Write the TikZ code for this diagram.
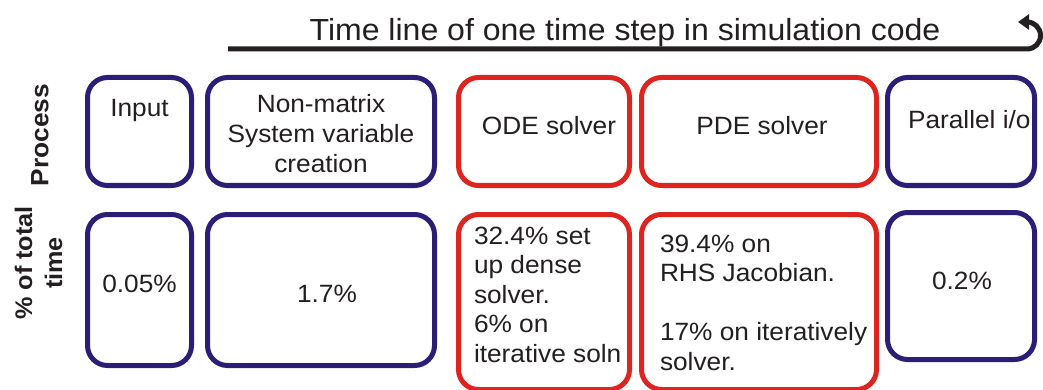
\documentclass[tikz,border=0pt]{standalone}
\usepackage{fontspec}
\setmainfont{Liberation Sans}[FakeStretch=1.05]
\usetikzlibrary{arrows.meta}

\definecolor{navybox}{RGB}{42,30,118}
\definecolor{redbox}{RGB}{222,36,30}
\definecolor{inktext}{RGB}{35,31,32}

\begin{document}
\begin{tikzpicture}[x=1pt,y=-1pt,
  every node/.style={inner sep=0pt,outer sep=0pt,text=inktext},
  stagebox/.style={draw,rectangle,line width=5pt,rounded corners=20pt},
  cpubox/.style={stagebox,draw=navybox},
  hotbox/.style={stagebox,draw=redbox},
  bodytext/.style={font=\fontsize{25}{29.5}\selectfont},
  rowlabel/.style={font=\fontsize{25}{30}\selectfont\bfseries,rotate=90,align=center},
  timeline/.style={line width=5pt,draw=inktext}
]
\useasboundingbox (0,0) rectangle (1043,390);

% title and time line with its return arrow
\node[anchor=base,font=\fontsize{30.5}{36}\selectfont] (title) at (625,41)
  {Time line of one time step in simulation code};
\coordinate (tlStart) at (228,49);
\coordinate (tlBend) at (1027,49);
\coordinate (tlTip) at (1018,22);
\draw[timeline,-{Triangle[length=11pt,width=15pt]}]
  (tlStart) -- (tlBend) arc[start angle=90,end angle=-90,radius=13.5] -- (tlTip);

% row labels
\node[rowlabel] (procLabel) at (40,135) {Process};
\node[rowlabel,font=\fontsize{24}{30}\selectfont\bfseries] (pctLabel) at (38.5,263) {\% of total\\time};

% process row
\node[cpubox,minimum width=104pt,minimum height=108pt] (inTop)  at (139.5,131.5) {};
\node[cpubox,minimum width=227pt,minimum height=108pt] (nmTop)  at (321,131.5) {};
\node[hotbox,minimum width=171pt,minimum height=108pt] (odeTop) at (544,131.5) {};
\node[hotbox,minimum width=235pt,minimum height=108pt] (pdeTop) at (759,131.5) {};
\node[cpubox,minimum width=147pt,minimum height=108pt] (pioTop) at (961,131.5) {};

% share-of-time row
\node[cpubox,minimum width=104pt,minimum height=151pt] (inPct)  at (139.5,290) {};
\node[cpubox,minimum width=227pt,minimum height=151pt] (nmPct)  at (321,290) {};
\node[hotbox,minimum width=171pt,minimum height=175pt] (odePct) at (544,302) {};
\node[hotbox,minimum width=235pt,minimum height=175pt] (pdePct) at (759,302) {};
\node[cpubox,minimum width=147pt,minimum height=147pt] (pioPct) at (961,286) {};

% process names (multi-line nodes are placed by the baseline of their last line)
\node[bodytext,anchor=base] (inName) at (139.5,117) {Input};
\node[bodytext,anchor=base,align=center] (nmName) at (321,172)
  {Non-matrix\\System variable\\creation};
\node[bodytext,anchor=base] (odeName) at (549,135) {ODE solver};
\node[bodytext,anchor=base] (pdeName) at (762,135) {PDE solver};
\node[bodytext,anchor=base west] (pioName) at (908,129) {Parallel i/o};

% time shares
\node[bodytext,anchor=base] (inShare) at (139.5,292) {0.05\%};
\node[bodytext,anchor=base] (nmShare) at (327,302) {1.7\%};
\node[bodytext,anchor=base west,align=left] (odeShare) at (474,362)
  {32.4\% set\\up dense\\solver.\\6\% on\\iterative soln};
\node[bodytext,anchor=base west,align=left] (pdeShare) at (660,370)
  {39.4\% on\\RHS Jacobian.\\[29.5pt]17\% on iteratively\\solver.};
\node[bodytext,anchor=base] (pioShare) at (962,289) {0.2\%};
\end{tikzpicture}
\end{document}
